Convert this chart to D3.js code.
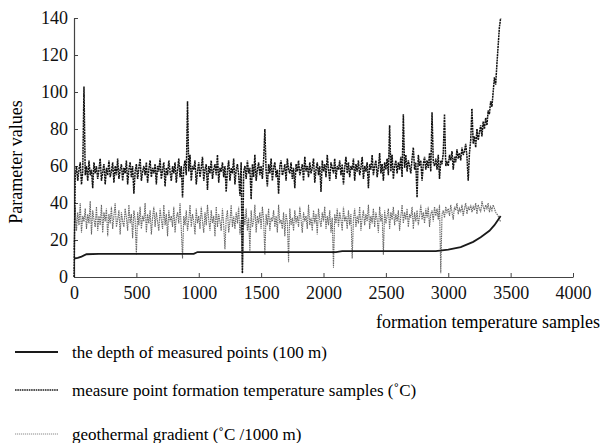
<!DOCTYPE html>
<html><head><meta charset="utf-8">
<script src="https://cdn.jsdelivr.net/npm/d3@7/dist/d3.min.js"></script>
</head><body style="margin:0"><svg id="c" width="602" height="443" font-family="'Liberation Serif'"></svg>
<script>
// sample step of the noisy series (every 10th formation temperature sample)
const sampleStep = 10;
const xTicks = [0, 500, 1000, 1500, 2000, 2500, 3000, 3500, 4000];
const yTicks = [0, 20, 40, 60, 80, 100, 120, 140];
const seriesNames = ["the depth of measured points (100 m)", "measure point formation temperature samples (\u02daC)", "geothermal gradient (\u02daC /1000 m)"];

const temperature = [
 0,55,60,52,58,62,50,57,103,55,
 60,52,63,55,58,48,62,56,60,53,
 58,64,52,57,61,50,59,55,63,54,
 57,62,51,60,55,64,53,58,61,52,
 59,56,63,50,58,62,54,60,45,57,
 61,53,59,64,52,57,60,55,62,51,
 58,63,54,59,56,61,50,60,57,64,
 53,58,62,49,59,55,63,57,52,60,
 56,62,51,58,64,54,60,43,59,63,
 55,95,57,66,52,60,58,63,50,57,
 62,54,59,65,52,58,61,47,60,56,
 63,53,58,61,55,66,51,59,57,62,
 54,60,46,58,63,52,59,56,64,50,
 58,61,55,44,62,2,57,60,53,63,
 56,59,42,61,54,66,52,58,62,55,
 60,53,63,80,57,49,61,56,64,52,
 59,62,54,58,45,60,63,55,57,61,
 52,64,58,56,62,53,59,48,61,57,
 63,55,58,61,52,65,57,60,54,62,
 56,59,64,51,58,62,55,60,46,63,
 57,61,54,66,58,52,62,59,56,64,
 53,60,58,63,55,61,50,59,65,56,
 62,54,60,58,64,52,61,57,63,55,
 59,65,53,60,57,62,48,61,58,66,
 55,60,63,54,59,67,56,61,52,62,
 58,64,55,82,57,66,53,60,63,56,
 62,58,65,54,88,59,66,57,63,60,
 56,64,70,58,62,43,66,60,63,52,
 61,65,58,63,59,67,57,89,62,60,
 64,58,66,53,63,61,67,88,60,62,
 60,66,63,68,58,65,62,69,64,67,
 63,70,66,68,72,65,52,67,74,91,
 72,76,70,80,74,78,82,76,84,80,
 86,82,90,88,95,92,100,108,104,115,
 125,135,140
];

const gradient = [
 15,38,25,35,28,40,24,33,30,37,
 26,34,29,41,23,36,31,27,38,25,
 33,28,39,24,35,30,37,22,34,29,
 38,26,33,40,27,31,36,23,35,30,
 27,37,32,25,39,29,34,21,36,31,
 12,35,28,38,26,33,30,40,24,34,
 29,36,23,32,38,27,35,30,25,37,
 31,26,39,28,34,22,36,30,33,27,
 38,24,32,35,29,40,26,10,33,28,
 36,25,31,39,27,34,30,23,37,29,
 33,26,38,30,24,35,28,39,31,25,
 36,29,33,22,38,27,34,30,25,37,
 28,15,32,36,24,30,39,27,33,26,
 35,29,38,23,31,2,34,28,37,25,
 32,14,36,27,30,39,24,33,29,35,
 26,38,31,12,34,28,37,25,32,30,
 36,27,33,24,39,29,31,26,35,22,
 34,30,8,37,28,32,25,36,29,33,
 27,38,31,24,35,30,33,26,39,28,
 32,25,36,29,34,23,37,31,27,35,
 30,38,26,33,28,36,24,32,5,34,
 29,37,27,35,31,25,38,30,33,26,
 36,28,34,10,31,37,27,33,29,38,
 25,32,36,28,34,30,39,26,33,29,
 37,27,35,31,24,38,30,34,12,36,
 29,33,37,26,35,31,38,28,34,30,
 36,25,33,39,29,35,31,37,27,34,
 32,38,26,35,30,36,28,33,39,31,
 35,29,37,32,38,27,34,36,30,38,
 33,37,31,39,2,34,36,32,38,35,
 37,33,39,35,31,38,36,40,34,37,
 35,39,33,37,40,34,38,36,39,35,
 38,36,40,34,39,37,35,41,38,36,
 39,37,40,35,38,36,39,37,35,34,
 33,31,30
];

const depthSamples = [0, 30, 60, 100, 200, 500, 960, 990, 1500, 2100, 2150, 2900, 3000, 3100, 3200, 3260, 3330, 3370, 3400, 3420];
const depthValues  = [10, 10.3, 11, 12.3, 12.5, 12.5, 12.5, 13.5, 13.5, 13.5, 14, 14, 14.8, 16.2, 19, 21.5, 25, 28, 31, 33];

const FONT = "'Liberation Serif'";
const svg = d3.select("#c");
const x = d3.scaleLinear().domain([0, 4000]).range([74, 573]);
const y = d3.scaleLinear().domain([0, 140]).range([277, 18]);

// axes (ticks pointing inward)
const xAxis = d3.axisBottom(x).tickValues(xTicks).tickFormat(d3.format("d")).tickSizeInner(-4).tickSizeOuter(0).tickPadding(9);
const yAxis = d3.axisLeft(y).tickValues(yTicks).tickFormat(d3.format("d")).tickSizeInner(-4).tickSizeOuter(0).tickPadding(6);
const gx = svg.append("g").attr("transform", "translate(0,277)").call(xAxis);
const gy = svg.append("g").attr("transform", "translate(74,0)").call(yAxis);
[gx, gy].forEach(g => {
  g.attr("font-family", null).attr("font-size", null);
  g.select(".domain").attr("stroke", "#444").attr("stroke-width", 1.2);
  g.selectAll(".tick line").attr("stroke", "#444");
  g.selectAll("text").attr("fill", "#111").attr("font-family", FONT).attr("font-size", 18);
});

const lineT = d3.line().x((d, i) => x(i * sampleStep)).y(d => y(d));

// geothermal gradient (grey dotted)
svg.append("path").datum(gradient).attr("d", lineT)
  .attr("fill", "none").attr("stroke", "#666").attr("stroke-width", 1.1).attr("stroke-dasharray", "1.5,0.8");

// formation temperature samples (dark dotted)
svg.append("path").datum(temperature).attr("d", lineT)
  .attr("fill", "none").attr("stroke", "#111").attr("stroke-width", 1.5).attr("stroke-dasharray", "2,0.7");

// depth (solid)
const lineD = d3.line().x((d, i) => x(depthSamples[i])).y(d => y(d));
svg.append("path").datum(depthValues).attr("d", lineD)
  .attr("fill", "none").attr("stroke", "#1a1a1a").attr("stroke-width", 1.8);

// axis titles
svg.append("text").attr("transform", "translate(22,162) rotate(-90)").attr("text-anchor", "middle")
  .attr("font-family", FONT).attr("font-size", 18).text("Parameter values");
svg.append("text").attr("x", 600).attr("y", 328).attr("text-anchor", "end")
  .attr("font-family", FONT).attr("font-size", 18).text("formation temperature samples");

// legend
const legY = [352, 390, 434];
const legStyles = [
  {stroke: "#1a1a1a", w: 1.8, dash: null},
  {stroke: "#1e1e1e", w: 1.3, dash: "1.6,0.7"},
  {stroke: "#8a8a8a", w: 1, dash: "1.2,0.8"}
];
seriesNames.forEach((name, i) => {
  svg.append("line").attr("x1", 15).attr("x2", 58).attr("y1", legY[i]).attr("y2", legY[i])
    .attr("stroke", legStyles[i].stroke).attr("stroke-width", legStyles[i].w)
    .attr("stroke-dasharray", legStyles[i].dash);
  svg.append("text").attr("x", 72).attr("y", legY[i] + 6).attr("font-family", FONT).attr("font-size", 17).text(name);
});
</script></body></html>
